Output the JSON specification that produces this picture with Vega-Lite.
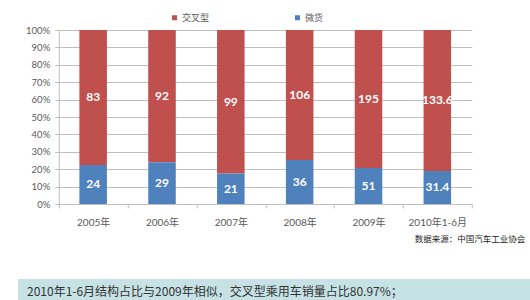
{
  "$schema": "https://vega.github.io/schema/vega-lite/v6.json",
  "background": "white",
  "padding": {"left": 18, "top": 13, "right": 0, "bottom": 0},
  "spacing": 35,
  "center": true,
  "bounds": "full",
  "config": {
    "view": {"stroke": null},
    "font": "Lato, Noto Sans CJK SC",
    "axis": {"labelFont": "Lato, Noto Sans CJK SC", "labelColor": "#595959", "labelFontSize": 9.5, "domainColor": "#bfbfbf", "tickColor": "#bfbfbf", "gridColor": "#bfbfbf", "title": null}
  },
  "datasets": {
    "sales": [
      {"year": "2005年", "type": "交叉型", "value": 83},
      {"year": "2005年", "type": "微货", "value": 24},
      {"year": "2006年", "type": "交叉型", "value": 92},
      {"year": "2006年", "type": "微货", "value": 29},
      {"year": "2007年", "type": "交叉型", "value": 99},
      {"year": "2007年", "type": "微货", "value": 21},
      {"year": "2008年", "type": "交叉型", "value": 106},
      {"year": "2008年", "type": "微货", "value": 36},
      {"year": "2009年", "type": "交叉型", "value": 195},
      {"year": "2009年", "type": "微货", "value": 51},
      {"year": "2010年1-6月", "type": "交叉型", "value": 133.6},
      {"year": "2010年1-6月", "type": "微货", "value": 31.4}
    ],
    "note": [
      {"text": "2010年1-6月结构占比与2009年相似，交叉型乘用车销量占比80.97%；"}
    ]
  },
  "vconcat": [
    {
      "width": 413,
      "height": 174,
      "data": {"name": "sales"},
      "title": {"text": "数据来源：中国汽车工业协会", "orient": "bottom", "anchor": "end", "fontSize": 8.5, "fontWeight": "normal", "color": "#222222", "font": "Noto Sans CJK SC", "offset": 8, "dx": 53},
      "encoding": {
        "x": {"field": "year", "type": "nominal", "sort": null,
              "scale": {"paddingInner": 0, "paddingOuter": 0},
              "axis": {"labelAngle": 0, "tickBand": "extent", "tickSize": 4, "labelPadding": 9, "labelFontSize": 10}},
        "y": {"field": "value", "type": "quantitative", "stack": "normalize",
              "scale": {"domain": [0, 1]},
              "axis": {"format": ".0%", "values": [0, 0.1, 0.2, 0.3, 0.4, 0.5, 0.6, 0.7, 0.8, 0.9, 1], "tickSize": 4, "labelPadding": 5, "minExtent": 39, "grid": true}},
        "order": {"field": "type", "sort": "descending"}
      },
      "layer": [
        {
          "mark": {"type": "bar", "width": {"band": 0.4}},
          "encoding": {
            "color": {"field": "type", "type": "nominal",
                      "scale": {"domain": ["交叉型", "微货"], "range": ["#c0504d", "#4f81bd"]},
                      "legend": {"orient": "none", "direction": "horizontal", "legendX": 152, "legendY": -17, "title": null, "symbolType": "square", "symbolSize": 25, "labelFontSize": 9, "labelColor": "#595959", "labelFont": "Noto Sans CJK SC", "columnPadding": 83, "labelOffset": 3, "padding": 0}}
          }
        },
        {
          "mark": {"type": "text", "color": "white", "fontWeight": "bold", "fontSize": 12, "baseline": "middle"},
          "encoding": {
            "y": {"field": "value", "type": "quantitative", "stack": "normalize", "bandPosition": 0.5},
            "text": {"field": "value", "type": "quantitative", "format": "~g"}
          }
        }
      ]
    },
    {
      "width": 548,
      "height": 26,
      "data": {"name": "note"},
      "view": {"fill": "#c6e2e5", "stroke": null},
      "mark": {"type": "text", "align": "left", "baseline": "middle", "fontSize": 12, "color": "#333333", "font": "Noto Sans CJK SC", "dx": 9},
      "encoding": {
        "x": {"datum": 0, "type": "quantitative", "scale": {"domain": [0, 1]}, "axis": null},
        "y": {"datum": 0.5, "type": "quantitative", "scale": {"domain": [0, 1]}, "axis": null},
        "text": {"field": "text", "type": "nominal"}
      }
    }
  ]
}
